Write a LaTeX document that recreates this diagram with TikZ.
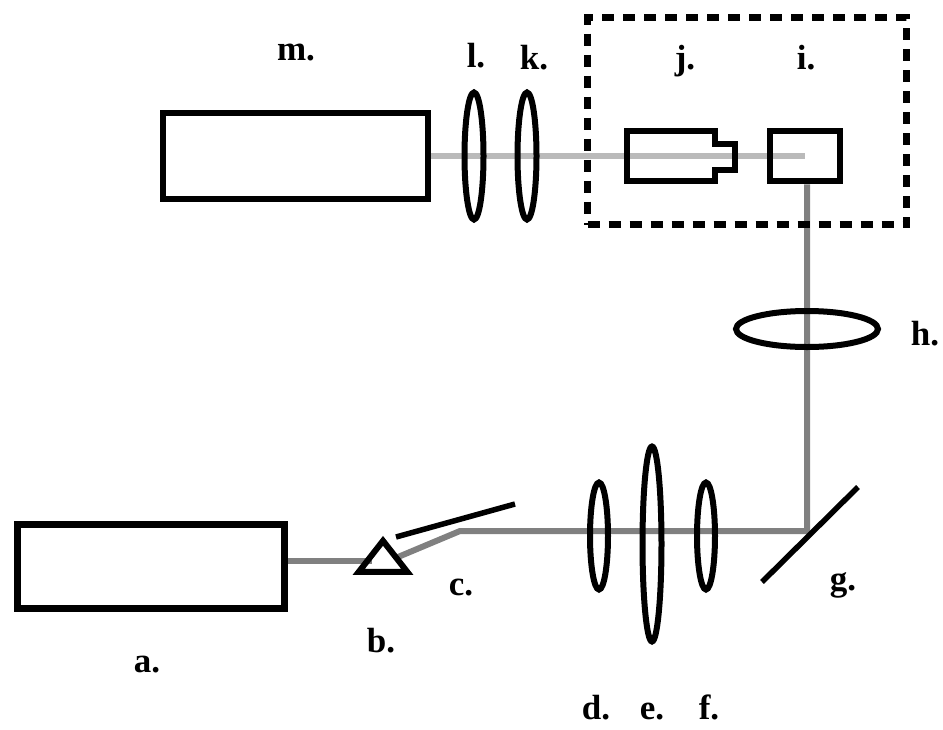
\documentclass[tikz,border=0pt]{standalone}
\usepackage{fontspec}
\setmainfont{Liberation Serif}
\usetikzlibrary{shapes.geometric,backgrounds}

\begin{document}
\begin{tikzpicture}[
  x=1pt, y=-1pt,
  box/.style={draw, line width=6.5pt, minimum width=#1, minimum height=84pt, inner sep=0pt},
  lens/.style={draw, ellipse, line width=6pt, inner sep=0pt},
  mirror/.style={line width=5.5pt},
  tag/.style={font=\fontsize{35}{37}\selectfont\bfseries, inner sep=0pt, anchor=base},
  beam/.style={line width=6pt, black!50},
  pale/.style={line width=6pt, black!27}
]
\useasboundingbox (0,0) rectangle (943,729);
% source side
\node[box=267pt] (a) at (151,566.5) {};
\node[draw, isosceles triangle, shape border rotate=90, isosceles triangle apex angle=76, line width=6pt, minimum height=31pt, minimum width=44pt, inner sep=0pt] (b) at (383,560) {};
\coordinate (bin) at (372,561);
\coordinate (bout) at (398,557);
\coordinate (c1) at (396,537);
\coordinate (c2) at (515,504);
\draw[mirror] (c1) -- (c2);
\coordinate (bend) at (460,531);
\coordinate (turn) at (807,531);
\node[lens, minimum width=18pt, minimum height=107pt] (d) at (599,536) {};
\node[lens, minimum width=19pt, minimum height=195pt] (e) at (652,544) {};
\node[lens, minimum width=18pt, minimum height=107pt] (f) at (706,536) {};
\coordinate (g1) at (762,582);
\coordinate (g2) at (858,487);
\draw[mirror] (g1) -- (g2);
\node[lens, minimum width=142pt, minimum height=36pt] (h) at (807,329) {};
% detection side
\node[draw, line width=7pt, dash pattern=on 12pt off 9pt, minimum width=319pt, minimum height=207pt, inner sep=0pt] (frame) at (747,121) {};
\node[draw, line width=6.5pt, minimum width=70pt, minimum height=50pt, inner sep=0pt] (i) at (805,156) {};
\draw[line width=6.5pt] (627,131) -- (715,131) -- (715,144) -- (735,144) -- (735,170) -- (715,170) -- (715,181) -- (627,181) -- cycle;
\node[lens, minimum width=19pt, minimum height=127pt] (k) at (527,156) {};
\node[lens, minimum width=19pt, minimum height=127pt] (l) at (474,156) {};
\node[box=265pt, minimum height=86pt] (m) at (295.5,156) {};
% beams
\begin{scope}[on background layer]
\draw[beam] ([yshift=5.5pt]a.east) -- (bin);
\draw[beam] (bout) -- (bend) -- (turn) -- (i.south -| turn);
\draw[pale] (m.east) -- (i.center);
\end{scope}
% labels
\node[tag] (la) at (147,672) {a.};
\node[tag] (lb) at (381,652) {b.};
\node[tag] (lc) at (461,595) {c.};
\node[tag] (ld) at (596,719) {d.};
\node[tag] (le) at (652,719) {e.};
\node[tag] (lf) at (709,719) {f.};
\node[tag] (lg) at (843,590) {g.};
\node[tag] (lh) at (925,345) {h.};
\node[tag] (li) at (806,69) {i.};
\node[tag] (lj) at (685,69) {j.};
\node[tag] (lk) at (534,69) {k.};
\node[tag] (ll) at (476,67) {l.};
\node[tag] (lm) at (296,60) {m.};
\end{tikzpicture}
\end{document}
